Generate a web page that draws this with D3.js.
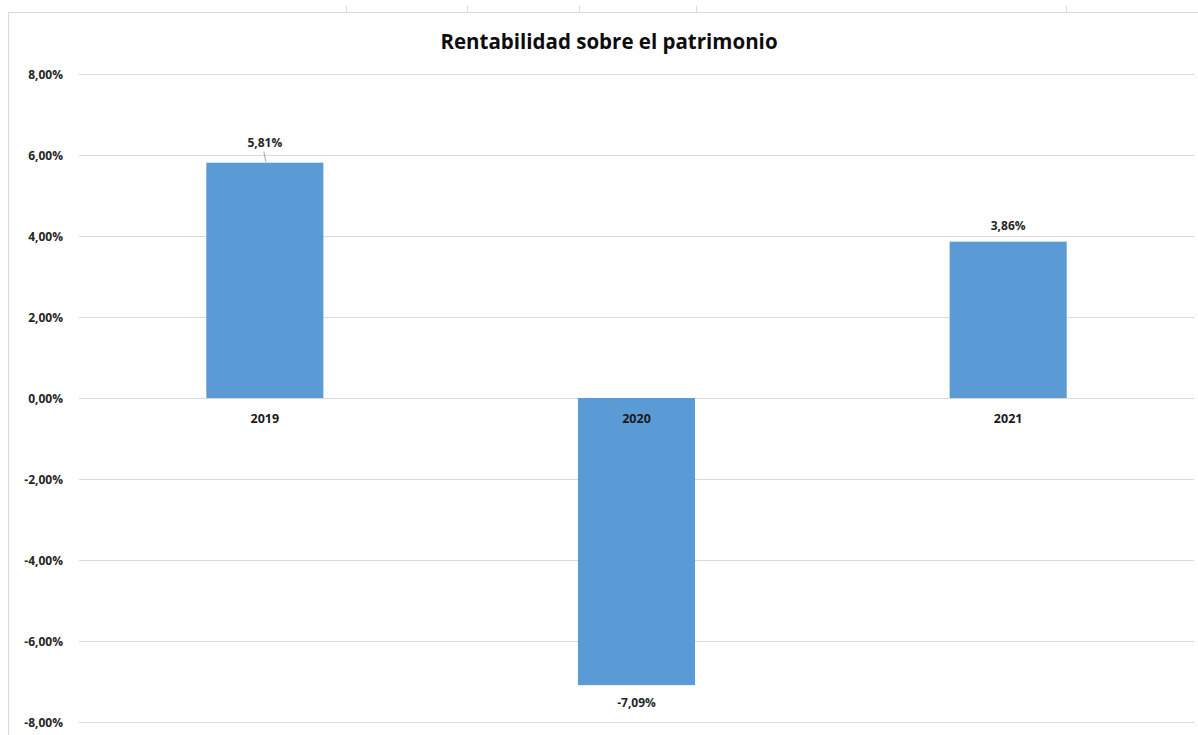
<!DOCTYPE html>
<html>
<head>
<meta charset="utf-8">
<script src="https://cdn.jsdelivr.net/npm/d3@7"></script>
<style>
  html, body { margin: 0; padding: 0; background: #fff; }
  svg { display: block; }
  text { font-family: "Open Sans", Lato, sans-serif; }
</style>
</head>
<body>
<svg id="chart" width="1198" height="735"></svg>
<script>
const title = "Rentabilidad sobre el patrimonio";
const categories = ["2019", "2020", "2021"];
const values = [5.81, -7.09, 3.86];
const dataLabels = ["5,81%", "-7,09%", "3,86%"];
const yTicks = [-8, -6, -4, -2, 0, 2, 4, 6, 8];
const yTickLabels = ["-8,00%", "-6,00%", "-4,00%", "-2,00%", "0,00%", "2,00%", "4,00%", "6,00%", "8,00%"];
const topMarks = [346, 467, 579, 696, 1066];

const svg = d3.select("#chart");
const W = 1198, H = 735;
const plot = { left: 79, right: 1194, top: 74, bottom: 722 };
const FONT = "'Open Sans', Lato, sans-serif";

// frame (spreadsheet chart border)
svg.append("line").attr("x1", 8.5).attr("x2", 8.5).attr("y1", 12).attr("y2", H)
  .attr("stroke", "#d9d9d9").attr("stroke-width", 1);
svg.append("line").attr("x1", 8).attr("x2", W).attr("y1", 12.5).attr("y2", 12.5)
  .attr("stroke", "#d9d9d9").attr("stroke-width", 1);
svg.selectAll("line.topmark").data(topMarks).join("line")
  .attr("class", "topmark")
  .attr("x1", d => d + 0.5).attr("x2", d => d + 0.5)
  .attr("y1", 6).attr("y2", 12)
  .attr("stroke", "#d9d9d9");

const x = d3.scaleBand().domain(categories)
  .range([plot.left, plot.right])
  .paddingInner(0.685).paddingOuter(0.3425);
const y = d3.scaleLinear().domain([-8, 8]).range([plot.bottom, plot.top]);

// gridlines
svg.append("g").selectAll("line").data(yTicks).join("line")
  .attr("x1", plot.left).attr("x2", plot.right)
  .attr("y1", d => Math.round(y(d)) + 0.5).attr("y2", d => Math.round(y(d)) + 0.5)
  .attr("stroke", "#d9d9d9").attr("stroke-width", 1);

// y-axis labels
const yAxis = d3.axisLeft(y).tickValues(yTicks)
  .tickFormat(d => yTickLabels[yTicks.indexOf(d)])
  .tickSize(0).tickPadding(0);
const gy = svg.append("g").attr("transform", `translate(63,0)`).call(yAxis);
gy.select(".domain").remove();
gy.selectAll("text")
  .attr("font-family", FONT)
  .attr("font-size", 12).attr("font-weight", 700).attr("fill", "#262626")
  .attr("dy", "0.35em");

// bars
const data = categories.map((c, i) => ({ c, v: values[i], label: dataLabels[i] }));
svg.append("g").selectAll("rect").data(data).join("rect")
  .attr("x", d => x(d.c))
  .attr("width", x.bandwidth())
  .attr("y", d => y(Math.max(0, d.v)))
  .attr("height", d => Math.abs(y(d.v) - y(0)))
  .attr("fill", "#5b9bd5");

// category labels
svg.append("g").selectAll("text").data(data).join("text")
  .attr("x", d => x(d.c) + x.bandwidth() / 2)
  .attr("y", y(0) + 21)
  .attr("dy", "0.35em")
  .attr("text-anchor", "middle")
  .attr("font-size", 12.5).attr("font-weight", 700).attr("fill", "#1a1a1a")
  .text(d => d.c);

// data labels
const lblOffset = { "2019": -20, "2020": 18, "2021": -16 };
svg.append("g").selectAll("text").data(data).join("text")
  .attr("x", d => x(d.c) + x.bandwidth() / 2)
  .attr("y", d => y(d.v) + lblOffset[d.c])
  .attr("dy", "0.35em")
  .attr("text-anchor", "middle")
  .attr("font-size", 12).attr("font-weight", 700).attr("fill", "#262626")
  .text(d => d.label);

// leader line for 2019
const d0 = data[0];
svg.append("line")
  .attr("x1", x(d0.c) + x.bandwidth() / 2 - 1).attr("x2", x(d0.c) + x.bandwidth() / 2 + 1)
  .attr("y1", y(d0.v) - 11).attr("y2", y(d0.v) - 1)
  .attr("stroke", "#a6a6a6").attr("stroke-width", 1);

// title
svg.append("text")
  .attr("x", 609).attr("y", 42)
  .attr("dy", "0.35em")
  .attr("text-anchor", "middle")
  .attr("font-family", FONT)
  .attr("font-size", 20.5).attr("font-weight", 700).attr("fill", "#0d0d0d")
  .text(title);
</script>
</body>
</html>
